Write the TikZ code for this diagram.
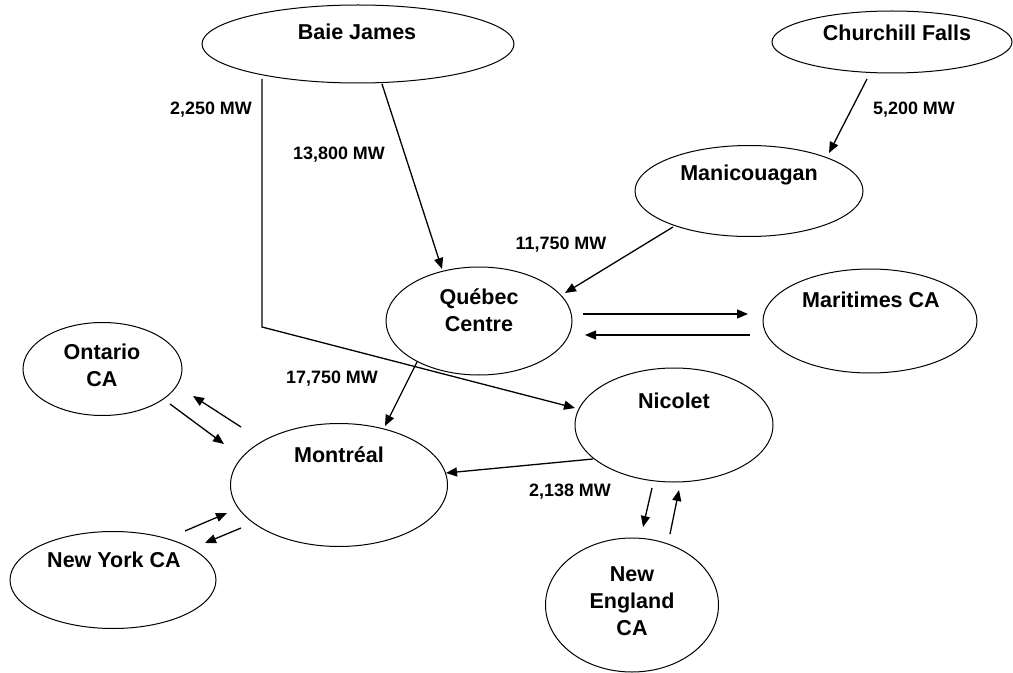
\documentclass[tikz,border=0pt]{standalone}
\usepackage{fontspec}
\setmainfont{Liberation Sans}[BoldFont={Liberation Sans Bold}]
\usetikzlibrary{shapes.geometric,arrows.meta}
\tikzset{
  ell/.style={draw, ellipse, line width=1bp, inner sep=0pt},
  ntext/.style={font=\fontsize{21.6}{27}\selectfont\bfseries, inner sep=0pt, anchor=base, align=center},
  mwlabel/.style={font=\fontsize{18}{22}\selectfont\bfseries, inner sep=0pt, anchor=center},
  flow/.style={line width=1.3bp, -{Triangle[length=11bp,width=9bp]}},
}
\begin{document}
\begin{tikzpicture}[x=1bp,y=-1bp]
\useasboundingbox (0,0) rectangle (1013,673);
% ellipses
\node[ell, minimum width=312bp, minimum height=78bp] (bj) at (358,44) {};
\node[ell, minimum width=240bp, minimum height=62bp] (cf) at (892,42) {};
\node[ell, minimum width=228bp, minimum height=91bp] (man) at (749,191) {};
\node[ell, minimum width=186bp, minimum height=108bp] (qc) at (479,321) {};
\node[ell, minimum width=214bp, minimum height=104bp] (mar) at (870,321) {};
\node[ell, minimum width=159bp, minimum height=93bp] (ont) at (102.5,369) {};
\node[ell, minimum width=217bp, minimum height=123bp] (mtl) at (339,485) {};
\node[ell, minimum width=206bp, minimum height=97bp] (ny) at (113,580) {};
\node[ell, minimum width=198bp, minimum height=114bp] (nic) at (674,425) {};
\node[ell, minimum width=173bp, minimum height=134bp] (ne) at (632,605) {};
% node texts
\node[ntext] (bjt) at (357,40) {Baie James};
\node[ntext] (cft) at (897,41) {Churchill Falls};
\node[ntext] (mant) at (749,181) {Manicouagan};
\node[ntext] (qct) at (479,331) {Québec\\Centre};
\node[ntext] (mart) at (871,307) {Maritimes CA};
\node[ntext] (ontt) at (102,386) {Ontario\\CA};
\node[ntext] (mtlt) at (339,462) {Montréal};
\node[ntext] (nyt) at (114,567) {New York CA};
\node[ntext] (nict) at (674,408) {Nicolet};
\node[ntext] (net) at (632,635) {New\\England\\CA};
% flow labels
\node[mwlabel] (l1) at (211,110) {2,250 MW};
\node[mwlabel] (l2) at (339,155) {13,800 MW};
\node[mwlabel] (l3) at (561,245) {11,750 MW};
\node[mwlabel] (l4) at (914,110) {5,200 MW};
\node[mwlabel] (l5) at (332,379) {17,750 MW};
\node[mwlabel] (l6) at (570,492) {2,138 MW};
% connector end points
\coordinate (bjA) at (382,84);  \coordinate (qcA) at (442,269);
\coordinate (bjB) at (262,79);  \coordinate (bend) at (262,327); \coordinate (nicA) at (575,408);
\coordinate (cfA) at (867,79);  \coordinate (manA) at (829,153);
\coordinate (manB) at (673,227); \coordinate (qcB) at (565,293);
\coordinate (qcC) at (583,314); \coordinate (marA) at (748,314);
\coordinate (marB) at (750,335); \coordinate (qcD) at (585,335);
\coordinate (qcE) at (417,362); \coordinate (mtlA) at (385,426);
\coordinate (nicB) at (593,459); \coordinate (mtlB) at (446,473);
\coordinate (ontA) at (170,404); \coordinate (mtlC) at (224,444);
\coordinate (mtlD) at (241,427); \coordinate (ontB) at (193,396);
\coordinate (nyA) at (185,531); \coordinate (mtlE) at (227,513);
\coordinate (mtlF) at (241,528); \coordinate (nyB) at (205,543);
\coordinate (nicC) at (652,488); \coordinate (neA) at (643,527);
\coordinate (neB) at (670,534); \coordinate (nicD) at (679,490);
% connectors
\draw[flow] (bjA) -- (qcA);
\draw[flow] (bjB) -- (bend) -- (nicA);
\draw[flow] (cfA) -- (manA);
\draw[flow] (manB) -- (qcB);
\draw[flow] (qcC) -- (marA);
\draw[flow] (marB) -- (qcD);
\draw[flow] (qcE) -- (mtlA);
\draw[flow] (nicB) -- (mtlB);
\draw[flow] (ontA) -- (mtlC);
\draw[flow] (mtlD) -- (ontB);
\draw[flow] (nyA) -- (mtlE);
\draw[flow] (mtlF) -- (nyB);
\draw[flow] (nicC) -- (neA);
\draw[flow] (neB) -- (nicD);
\end{tikzpicture}
\end{document}
